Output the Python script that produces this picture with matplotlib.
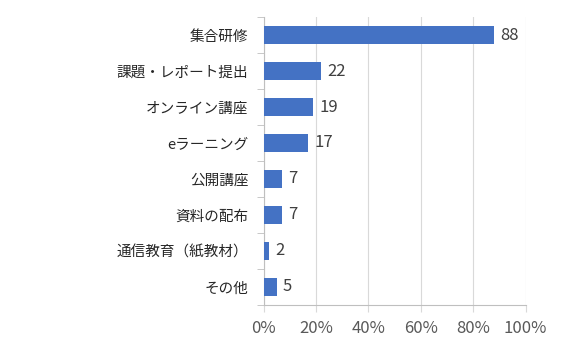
import matplotlib
matplotlib.use("Agg")
import matplotlib.pyplot as plt
from matplotlib.ticker import FuncFormatter

plt.rcParams['font.family'] = ['Noto Sans CJK JP', 'DejaVu Sans']

categories = ['集合研修', '課題・レポート提出', 'オンライン講座', 'eラーニング',
              '公開講座', '資料の配布', '通信教育（紙教材）', 'その他']
values = [88, 22, 19, 17, 7, 7, 2, 5]
xticks = [0, 20, 40, 60, 80, 100]

fig = plt.figure(figsize=(5.67, 3.55), dpi=100)
ax = fig.add_axes([0.465, 0.141, 0.462, 0.811])

y = list(range(len(categories)))
ax.barh(y, values, height=0.48, color='#4472C4', zorder=3)
ax.set_ylim(len(categories) - 0.5, -0.5)
ax.set_xlim(0, 100)
ax.set_xticks(xticks)
ax.xaxis.set_major_formatter(FuncFormatter(lambda v, p: f'{int(v)}%'))
ax.set_yticks(y)
ax.set_yticklabels(categories)
ax.set_yticks([i + 0.5 for i in range(-1, len(categories))], minor=True)

for i, v in enumerate(values):
    ax.text(v + 2.3, i, str(v), va='center', ha='left', fontsize=12, color='#404040')

ax.grid(axis='x', color='#D9D9D9', linewidth=0.8, zorder=0)
for s in ['top', 'right']:
    ax.spines[s].set_visible(False)
for s in ['left', 'bottom']:
    ax.spines[s].set_color('#BFBFBF')
    ax.spines[s].set_linewidth(0.8)

ax.tick_params(axis='y', which='major', length=0, pad=11, labelsize=10.5, labelcolor='#262626')
ax.tick_params(axis='y', which='minor', length=5, color='#BFBFBF', direction='out')
ax.tick_params(axis='x', length=5, color='#D9D9D9', pad=6, labelsize=12, labelcolor='#595959')

fig.savefig('out.png', dpi=100)
